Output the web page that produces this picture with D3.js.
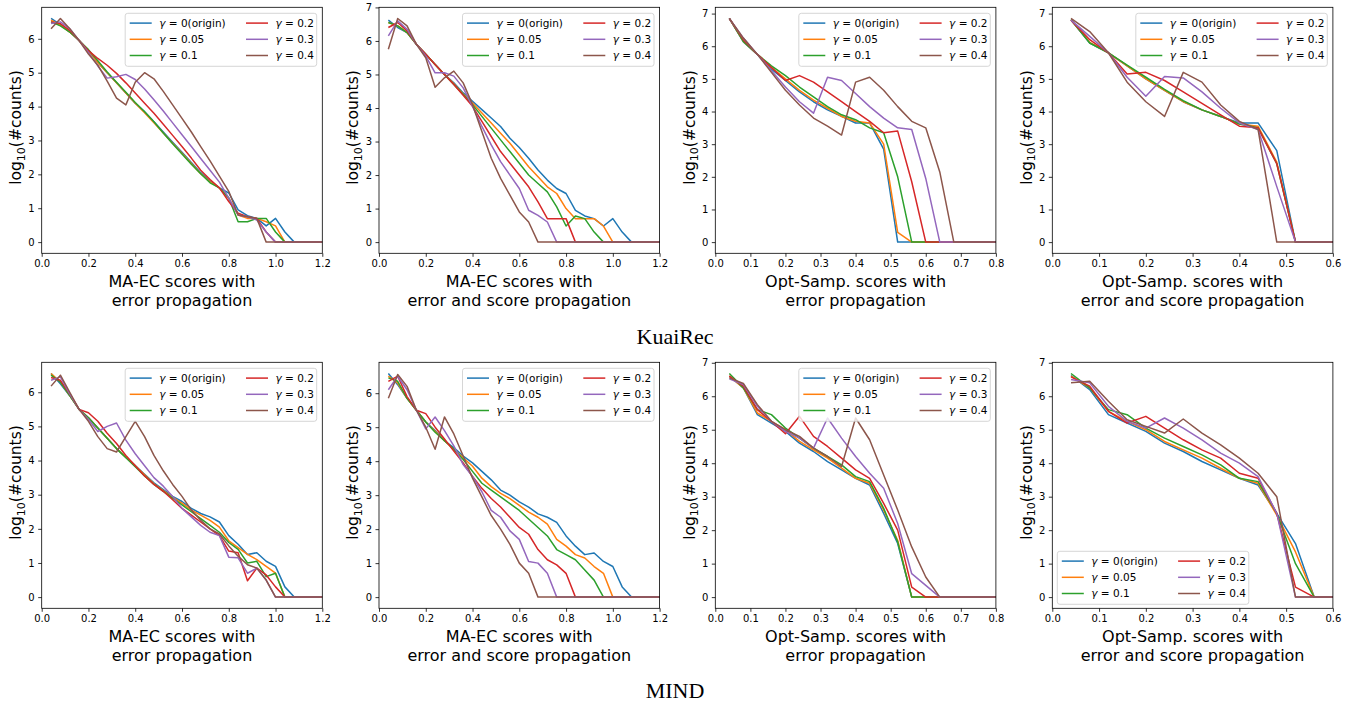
<!DOCTYPE html>
<html>
<head>
<meta charset="utf-8">
<script src="https://cdn.jsdelivr.net/npm/d3@7"></script>
<style>
  body { margin: 0; background: #fff; }
  text { font-family: "DejaVu Sans", sans-serif; }
</style>
</head>
<body>
<svg id="fig" width="1359" height="707"></svg>
<script>
// bin centres
var xMaec = [0.04,0.08,0.12,0.16,0.2,0.24,0.28,0.32,0.36,0.4,0.44,0.48,0.52,0.56,0.6,0.64,0.68,0.72,0.76,0.8,0.84,0.88,0.92,0.96,1.0,1.04,1.08,1.12,1.16,1.2];
var xOptErr = [0.04,0.08,0.12,0.16,0.2,0.24,0.28,0.32,0.36,0.4,0.44,0.48,0.52,0.56,0.6,0.64,0.68,0.72,0.76,0.8];
var xOptBoth = [0.04,0.08,0.12,0.16,0.2,0.24,0.28,0.32,0.36,0.4,0.44,0.48,0.52,0.56,0.6];

var gammaLabels = ["0(origin)", "0.05", "0.1", "0.2", "0.3", "0.4"];
var colors = ["#1f77b4", "#ff7f0e", "#2ca02c", "#d62728", "#9467bd", "#8c564b"];

// KuaiRec, MA-EC, error propagation
var kuaiMaecErr = [
  [6.6,6.42,6.2,5.95,5.65,5.3,5.0,4.7,4.4,4.1,3.85,3.55,3.25,2.95,2.65,2.35,2.05,1.8,1.6,1.45,0.95,0.78,0.7,0.48,0.7,0.3,0,0,0,0],
  [6.55,6.4,6.2,5.95,5.65,5.3,5.0,4.7,4.4,4.1,3.82,3.52,3.22,2.92,2.62,2.32,2.02,1.78,1.6,1.3,0.8,0.7,0.7,0.6,0.48,0,0,0,0,0],
  [6.5,6.38,6.2,5.95,5.68,5.35,5.02,4.72,4.42,4.12,3.85,3.55,3.22,2.9,2.6,2.3,2.02,1.75,1.6,1.3,0.6,0.6,0.7,0.7,0.3,0,0,0,0,0],
  [6.5,6.45,6.25,5.95,5.65,5.42,5.22,4.98,4.7,4.4,4.1,3.8,3.48,3.15,2.82,2.48,2.12,1.85,1.6,1.2,0.85,0.75,0.7,0.3,0,0,0,0,0,0],
  [6.45,6.5,6.3,5.95,5.6,5.2,4.84,4.88,4.95,4.8,4.52,4.2,3.87,3.52,3.17,2.82,2.47,2.12,1.77,1.3,0.8,0.75,0.65,0.3,0,0,0,0,0,0],
  [6.3,6.6,6.3,5.95,5.55,5.22,4.75,4.25,4.05,4.72,5.0,4.82,4.45,4.05,3.65,3.25,2.82,2.4,1.95,1.5,0.8,0.75,0.7,0,0,0,0,0,0,0]
];
// KuaiRec, MA-EC, error and score propagation
var kuaiMaecBoth = [
  [6.62,6.4,6.25,5.9,5.6,5.3,5.0,4.75,4.45,4.2,3.95,3.7,3.45,3.1,2.82,2.5,2.15,1.85,1.6,1.45,0.95,0.78,0.7,0.48,0.7,0.3,0,0,0,0],
  [6.55,6.45,6.25,5.9,5.6,5.3,5.0,4.72,4.42,4.15,3.85,3.55,3.25,2.95,2.6,2.25,1.95,1.65,1.45,1.0,0.7,0.7,0.7,0.48,0,0,0,0,0,0],
  [6.55,6.45,6.25,5.9,5.6,5.3,5.0,4.7,4.4,4.1,3.75,3.4,3.05,2.7,2.35,2.0,1.75,1.5,1.05,0.48,0.78,0.7,0.3,0,0,0,0,0,0,0],
  [6.4,6.55,6.3,5.9,5.6,5.3,5.0,4.7,4.38,4.05,3.6,3.15,2.7,2.35,2.0,1.65,1.2,0.7,0.7,0.7,0,0,0,0,0,0,0,0,0,0],
  [6.15,6.6,6.35,5.9,5.55,5.05,5.05,4.95,4.6,4.05,3.45,2.9,2.4,2.0,1.6,0.95,0.8,0.6,0,0,0,0,0,0,0,0,0,0,0,0],
  [5.75,6.67,6.45,5.9,5.5,4.62,4.9,5.1,4.75,4.1,3.3,2.5,1.9,1.4,0.9,0.6,0,0,0,0,0,0,0,0,0,0,0,0,0,0]
];
// KuaiRec, Opt-Samp, error propagation
var kuaiOptErr = [
  [6.85,6.13,5.75,5.3,4.95,4.6,4.3,4.05,3.85,3.65,3.65,2.85,0,0,0,0,0,0,0,0],
  [6.85,6.15,5.75,5.35,5.0,4.65,4.35,4.1,3.85,3.7,3.65,3.0,0.3,0,0,0,0,0,0,0],
  [6.85,6.15,5.75,5.4,5.1,4.75,4.45,4.15,3.9,3.75,3.5,3.35,2.0,0,0,0,0,0,0,0],
  [6.85,6.2,5.75,5.35,4.95,5.1,4.9,4.6,4.3,4.0,3.7,3.35,3.4,1.85,0,0,0,0,0,0],
  [6.85,6.25,5.75,5.25,4.75,4.3,3.95,5.05,4.95,4.55,4.15,3.8,3.5,3.45,1.95,0,0,0,0,0],
  [6.85,6.25,5.75,5.2,4.65,4.2,3.8,3.55,3.28,4.9,5.05,4.65,4.15,3.7,3.5,2.15,0,0,0,0]
];
// KuaiRec, Opt-Samp, error and score propagation
var kuaiOptBoth = [
  [6.8,6.1,5.8,5.4,5.0,4.65,4.3,4.05,3.85,3.65,3.65,2.8,0,0,0],
  [6.8,6.12,5.8,5.4,5.0,4.65,4.3,4.05,3.85,3.62,3.55,2.45,0,0,0],
  [6.82,6.1,5.8,5.42,5.05,4.68,4.33,4.05,3.85,3.62,3.5,2.4,0,0,0],
  [6.8,6.2,5.8,5.15,5.2,4.95,4.6,4.25,3.9,3.55,3.5,2.4,0,0,0],
  [6.8,6.3,5.8,5.05,4.47,5.07,5.03,4.6,4.1,3.65,3.45,1.7,0,0,0],
  [6.85,6.45,5.8,4.9,4.3,3.85,5.2,4.9,4.2,3.7,3.45,0,0,0,0]
];
// MIND, MA-EC, error propagation
var mindMaecErr = [
  [6.55,6.25,5.9,5.5,5.25,4.95,4.65,4.35,4.1,3.85,3.6,3.35,3.15,2.95,2.8,2.6,2.45,2.35,2.2,1.8,1.55,1.25,1.3,1.05,0.9,0.3,0,0,0,0],
  [6.55,6.3,5.9,5.5,5.25,4.95,4.65,4.35,4.1,3.85,3.58,3.32,3.12,2.92,2.75,2.55,2.4,2.25,2.05,1.65,1.45,1.25,1.1,0.9,0.7,0,0,0,0,0],
  [6.5,6.3,5.9,5.5,5.25,4.95,4.65,4.35,4.08,3.82,3.55,3.3,3.1,2.9,2.7,2.5,2.3,2.1,1.9,1.6,1.4,1.0,1.05,0.6,0.7,0,0,0,0,0],
  [6.43,6.35,5.95,5.5,5.4,5.15,4.8,4.5,4.15,3.85,3.55,3.3,3.1,2.85,2.6,2.4,2.2,2.0,1.8,1.35,1.3,0.48,0.85,0.65,0.3,0,0,0,0,0],
  [6.35,6.45,5.95,5.5,5.2,4.85,5.0,5.1,4.6,4.2,3.85,3.5,3.25,2.95,2.6,2.35,2.1,1.9,1.8,1.17,1.15,0.7,0.85,0.5,0,0,0,0,0,0],
  [6.18,6.5,6.0,5.5,5.15,4.7,4.35,4.25,4.7,5.15,4.7,4.15,3.7,3.3,2.95,2.55,2.25,2.0,1.85,1.5,1.2,0.95,0.85,0.5,0,0,0,0,0,0]
];
// MIND, MA-EC, error and score propagation
var mindMaecBoth = [
  [6.58,6.25,5.85,5.5,5.15,4.9,4.6,4.4,4.15,3.95,3.7,3.45,3.15,3.0,2.8,2.65,2.45,2.35,2.2,1.8,1.5,1.25,1.3,1.05,0.9,0.3,0,0,0,0],
  [6.5,6.3,5.85,5.5,5.15,4.88,4.6,4.35,4.1,3.85,3.5,3.25,3.05,2.9,2.7,2.5,2.35,2.15,1.7,1.5,1.25,1.15,0.9,0.7,0,0,0,0,0,0],
  [6.45,6.35,5.85,5.5,5.15,4.85,4.6,4.35,4.05,3.7,3.35,3.15,2.95,2.75,2.55,2.3,2.05,1.8,1.4,1.25,1.1,0.8,0.5,0,0,0,0,0,0,0],
  [6.35,6.5,5.9,5.5,5.4,5.0,4.65,4.3,3.95,3.55,3.2,2.9,2.65,2.35,2.05,1.85,1.4,1.1,0.95,0.7,0,0,0,0,0,0,0,0,0,0],
  [6.1,6.5,6.1,5.5,4.95,5.3,4.9,4.45,3.9,3.55,3.1,2.55,2.35,1.95,1.7,1.05,1.0,0.7,0,0,0,0,0,0,0,0,0,0,0,0],
  [5.85,6.55,6.2,5.5,5.0,4.35,5.3,4.8,4.15,3.5,2.95,2.4,2.0,1.55,1.0,0.7,0,0,0,0,0,0,0,0,0,0,0,0,0,0]
];
// MIND, Opt-Samp, error propagation
var mindOptErr = [
  [6.6,6.25,5.45,5.2,4.95,4.6,4.35,4.05,3.8,3.55,3.35,2.5,1.6,0,0,0,0,0,0,0],
  [6.6,6.25,5.5,5.25,5.0,4.65,4.4,4.15,3.85,3.55,3.4,2.6,1.7,0,0,0,0,0,0,0],
  [6.68,6.25,5.6,5.45,5.05,4.75,4.45,4.2,3.95,3.6,3.45,2.65,1.65,0,0,0,0,0,0,0],
  [6.6,6.3,5.6,5.25,4.88,5.4,4.8,4.5,4.15,3.8,3.55,2.8,2.0,0.3,0,0,0,0,0,0],
  [6.52,6.35,5.7,5.25,4.95,4.75,4.45,5.35,4.75,4.2,3.7,3.25,2.2,0.7,0.35,0,0,0,0,0],
  [6.55,6.38,5.75,5.25,5.0,4.8,4.45,4.2,3.9,5.35,4.7,3.65,2.6,1.5,0.6,0,0,0,0,0]
];
// MIND, Opt-Samp, error and score propagation
var mindOptBoth = [
  [6.62,6.2,5.45,5.2,4.95,4.6,4.35,4.05,3.8,3.55,3.35,2.5,1.6,0,0],
  [6.6,6.25,5.55,5.25,5.0,4.65,4.4,4.15,3.85,3.55,3.4,2.45,1.35,0,0],
  [6.68,6.25,5.6,5.45,5.05,4.75,4.5,4.25,3.95,3.55,3.45,2.5,1.0,0,0],
  [6.58,6.3,5.55,5.2,5.4,5.05,4.7,4.4,4.15,3.7,3.55,2.5,0.3,0,0],
  [6.5,6.4,5.7,5.25,5.05,5.35,5.05,4.7,4.3,4.0,3.6,2.5,0,0,0],
  [6.4,6.45,5.85,5.3,5.1,4.9,5.32,4.9,4.55,4.15,3.7,3.0,0,0,0]
];

var maecErrLabel = ["MA-EC scores with", "error propagation"];
var maecBothLabel = ["MA-EC scores with", "error and score propagation"];
var optErrLabel = ["Opt-Samp. scores with", "error propagation"];
var optBothLabel = ["Opt-Samp. scores with", "error and score propagation"];

var panels = [
  {data: kuaiMaecErr,  xs: xMaec,    xmax: 1.2, xlab: maecErrLabel,  row: 0, col: 0, leg: "tr"},
  {data: kuaiMaecBoth, xs: xMaec,    xmax: 1.2, xlab: maecBothLabel, row: 0, col: 1, leg: "tr"},
  {data: kuaiOptErr,   xs: xOptErr,  xmax: 0.8, xlab: optErrLabel,   row: 0, col: 2, leg: "tr"},
  {data: kuaiOptBoth,  xs: xOptBoth, xmax: 0.6, xlab: optBothLabel,  row: 0, col: 3, leg: "tr"},
  {data: mindMaecErr,  xs: xMaec,    xmax: 1.2, xlab: maecErrLabel,  row: 1, col: 0, leg: "tr"},
  {data: mindMaecBoth, xs: xMaec,    xmax: 1.2, xlab: maecBothLabel, row: 1, col: 1, leg: "tr"},
  {data: mindOptErr,   xs: xOptErr,  xmax: 0.8, xlab: optErrLabel,   row: 1, col: 2, leg: "tr"},
  {data: mindOptBoth,  xs: xOptBoth, xmax: 0.6, xlab: optBothLabel,  row: 1, col: 3, leg: "bl"}
];
var titles = ["KuaiRec", "MIND"];

var svg = d3.select("#fig");
var pw = 280.6, ph = 246;
var lefts = [41.7, 379, 715.3, 1052.3];
var tops = [7.3, 362.3];

panels.forEach(function(p, pi) {
  var x0 = lefts[p.col], y0 = tops[p.row];
  var g = svg.append("g").attr("transform", "translate(" + x0 + "," + y0 + ")");

  var all = d3.merge(p.data);
  var ext = d3.extent(all);
  var pad = (ext[1] - ext[0]) * 0.05;

  var x = d3.scaleLinear().domain([0, p.xmax]).range([0, pw]);
  var y = d3.scaleLinear().domain([ext[0] - pad, ext[1] + pad]).range([ph, 0]);

  g.append("clipPath").attr("id", "clip" + pi)
    .append("rect").attr("width", pw).attr("height", ph);

  var xAxis = d3.axisBottom(x).ticks(p.xmax > 1 ? 6 : Math.round(p.xmax * 10))
    .tickFormat(d3.format(".1f")).tickSize(3.5).tickPadding(3.5);
  var yAxis = d3.axisLeft(y).ticks(7).tickFormat(d3.format("d")).tickSize(3.5).tickPadding(3.5);

  var gx = g.append("g").attr("transform", "translate(0," + ph + ")").call(xAxis);
  var gy = g.append("g").call(yAxis);
  [gx, gy].forEach(function(a) {
    a.select(".domain").remove();
    a.selectAll(".tick line").attr("stroke", "#000").attr("stroke-width", 0.8);
    a.selectAll(".tick text").attr("fill", "#000").style("font-size", "10px")
      .style("font-family", "DejaVu Sans");
  });

  var line = d3.line()
    .x(function(d, i) { return x(p.xs[i]); })
    .y(function(d) { return y(d); });

  g.append("g").attr("clip-path", "url(#clip" + pi + ")")
    .selectAll("path")
    .data(p.data)
    .enter().append("path")
    .attr("d", line)
    .attr("fill", "none")
    .attr("stroke", function(d, i) { return colors[i]; })
    .attr("stroke-width", 1.5)
    .attr("stroke-linejoin", "round");

  g.append("rect").attr("width", pw).attr("height", ph)
    .attr("fill", "none").attr("stroke", "#000").attr("stroke-width", 0.8);

  // y label
  var yl = g.append("text")
    .attr("transform", "translate(-20.6," + 120.2 + ") rotate(-90)")
    .attr("text-anchor", "middle")
    .style("font-size", "15.5px");
  yl.append("tspan").text("log");
  yl.append("tspan").attr("dy", 3.5).style("font-size", "11px").text("10");
  yl.append("tspan").attr("dy", -3.5).text("(#counts)");

  // x label, two lines
  g.selectAll(".xlab").data(p.xlab).enter().append("text")
    .attr("class", "xlab")
    .attr("x", pw / 2)
    .attr("y", function(d, i) { return 280 + i * 18.3; })
    .attr("text-anchor", "middle")
    .style("font-size", "16px")
    .text(function(d) { return d; });

  // legend
  var bw = 191.5, bh = 53;
  var bx = p.leg === "tr" ? pw - 5.6 - bw : 5;
  var by = p.leg === "tr" ? 6 : ph - 4 - bh;
  var lg = g.append("g").attr("transform", "translate(" + bx + "," + by + ")");
  lg.append("rect").attr("width", bw).attr("height", bh).attr("rx", 2.5)
    .attr("fill", "#fff").attr("fill-opacity", 0.8)
    .attr("stroke", "#ccc").attr("stroke-width", 0.8);
  gammaLabels.forEach(function(lab, i) {
    var c = Math.floor(i / 3), r = i % 3;
    var lx = c === 0 ? 4.5 : 120.8;
    var ly = 9.8 + r * 16.2;
    lg.append("line").attr("x1", lx).attr("x2", lx + 22)
      .attr("y1", ly).attr("y2", ly)
      .attr("stroke", colors[i]).attr("stroke-width", 1.5);
    var t = lg.append("text").attr("x", lx + 29.5).attr("y", ly + 3.7)
      .style("font-size", "10.5px");
    t.append("tspan").style("font-style", "italic").text("\u03b3");
    t.append("tspan").text(" = " + lab);
  });
});

svg.selectAll(".title").data(titles).enter().append("text")
  .attr("class", "title")
  .attr("x", 675)
  .attr("y", function(d, i) { return i === 0 ? 344 : 698; })
  .attr("text-anchor", "middle")
  .style("font-family", "'Liberation Serif', 'DejaVu Serif', serif")
  .style("font-size", "22px")
  .text(function(d) { return d; });
</script>
</body>
</html>
